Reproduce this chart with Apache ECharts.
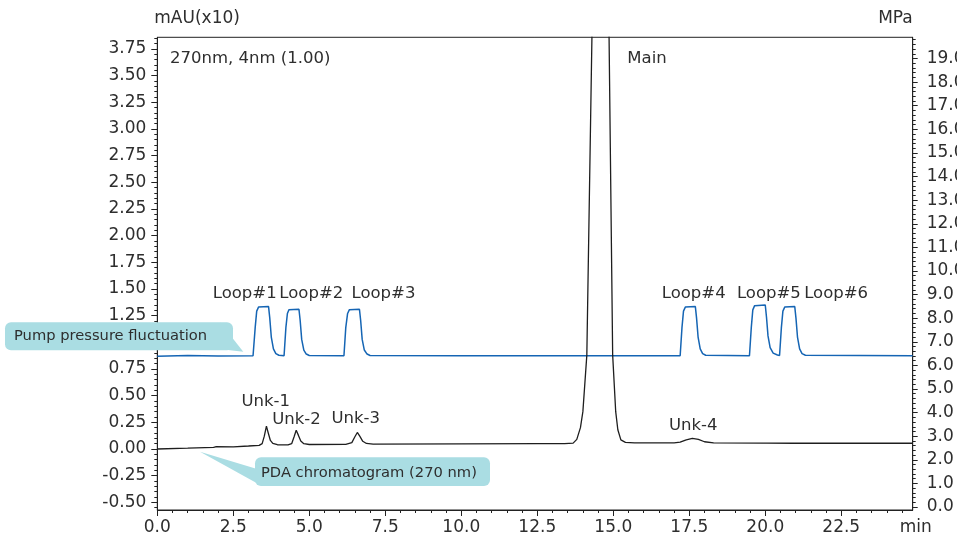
<!DOCTYPE html>
<html><head><meta charset="utf-8">
<script src="https://cdn.jsdelivr.net/npm/echarts@6/dist/echarts.min.js"></script>
<style>html,body{margin:0;padding:0;background:#fff}#c{width:957px;height:539px}</style>
</head><body><div id="c"></div>
<script>
// ---- data ----
// PDA chromatogram (270 nm), left axis mAU(x10): [time(min), value]
var pdaData = [
  [0,0.000],[1.0,0.008],[1.85,0.015],[1.92,0.021],[1.97,0.013],[2.5,0.020],[3.0,0.028],[3.35,0.034],
  [3.45,0.050],[3.52,0.120],[3.59,0.215],[3.65,0.150],[3.72,0.080],[3.80,0.052],[3.95,0.040],[4.30,0.038],
  [4.42,0.050],[4.50,0.115],[4.57,0.175],[4.64,0.130],[4.72,0.075],[4.82,0.050],[5.0,0.042],[6.2,0.044],
  [6.40,0.060],[6.50,0.115],[6.58,0.155],[6.66,0.120],[6.76,0.072],[6.88,0.052],[7.1,0.046],[10.0,0.048],
  [12.5,0.050],[13.4,0.050],[13.68,0.055],[13.80,0.090],[13.92,0.200],[14.00,0.350],[14.13,0.880],[14.30,3.900],
  [14.45,15.0],[14.57,30.0],[14.70,15.0],[14.86,3.900],[14.98,0.880],[15.08,0.350],[15.15,0.180],[15.25,0.085],
  [15.40,0.062],[15.7,0.058],[17.0,0.058],[17.2,0.064],[17.4,0.085],[17.6,0.100],[17.8,0.090],[18.0,0.068],
  [18.3,0.058],[19.95,0.055],[20.0,0.050],[20.05,0.055],[20.95,0.054],[21.0,0.049],[21.05,0.054],[24.85,0.054]
];
// Pump pressure, right axis MPa: [time(min), pressure]
var pressureData = [
  [0,6.39],[1.0,6.42],[2.0,6.40],[3.15,6.41],
  [3.18,6.45],[3.22,7.60],[3.27,8.30],[3.33,8.47],[3.66,8.49],[3.70,8.00],[3.75,7.20],[3.82,6.70],[3.90,6.50],[4.00,6.43],[4.17,6.41],
  [4.19,6.45],[4.23,7.60],[4.28,8.20],[4.33,8.36],[4.66,8.38],[4.70,7.90],[4.75,7.10],[4.82,6.65],[4.90,6.48],[5.00,6.42],[6.14,6.41],
  [6.16,6.45],[6.20,7.60],[6.26,8.20],[6.32,8.36],[6.65,8.38],[6.69,7.90],[6.74,7.10],[6.81,6.65],[6.90,6.48],[7.00,6.42],
  [10.0,6.41],[14.0,6.41],[17.20,6.41],
  [17.22,6.45],[17.26,7.60],[17.31,8.30],[17.37,8.47],[17.70,8.49],[17.74,8.00],[17.79,7.20],[17.86,6.70],[17.94,6.50],[18.04,6.43],[19.48,6.41],
  [19.50,6.45],[19.54,7.60],[19.59,8.35],[19.65,8.53],[20.00,8.56],[20.04,8.05],[20.09,7.25],[20.16,6.75],[20.26,6.52],[20.40,6.44],[20.47,6.42],
  [20.49,6.45],[20.53,7.60],[20.58,8.30],[20.64,8.47],[20.97,8.49],[21.01,8.00],[21.06,7.20],[21.13,6.70],[21.21,6.50],[21.32,6.43],[24.85,6.41]
];
// annotation texts and their anchor points (time, left-axis value)
var noteTexts = ['270nm, 4nm (1.00)','Main','Loop#1','Loop#2','Loop#3','Loop#4','Loop#5','Loop#6','Unk-1','Unk-2','Unk-3','Unk-4'];
var noteTime  = [0.42, 16.11, 2.875, 5.066, 7.44, 17.645, 20.12, 22.33, 3.566, 4.579, 6.53, 17.63];
var noteValue = [3.656, 3.656, 1.458, 1.458, 1.458, 1.458, 1.458, 1.458, 0.443, 0.278, 0.281, 0.216];
var noteAlign = ['left','center','center','center','center','center','center','center','center','center','center','center'];
// axis ticks
var xTicks = [0,2.5,5,7.5,10,12.5,15,17.5,20,22.5];
var leftTicks = [-0.5,-0.25,0,0.25,0.5,0.75,1,1.25,1.5,1.75,2,2.25,2.5,2.75,3,3.25,3.5,3.75];
var rightTicks = [0,1,2,3,4,5,6,7,8,9,10,11,12,13,14,15,16,17,18,19];

// ---- minor tick positions ----
function minorList(a, b, step, major) {
  var out = [];
  for (var i = Math.round(a/step); i*step <= b + 1e-9; i++) {
    var v = +(i*step).toFixed(4);
    if (Math.abs(v/major - Math.round(v/major)) > 1e-6) out.push(v);
  }
  return out;
}
var xMinor = minorList(0, 24.5, 0.5, 2.5);
var leftMinor = minorList(-0.55, 3.85, 0.05, 0.25);
var rightMinor = minorList(0, 19.8, 0.2, 1);

var FONT = 'DejaVu Sans';
var TXT = '#2e2e2e';
var AX = '#222222';
var BOX = '#aadde3';
var X_MIN = 0, X_MAX = 24.85, L_MIN = -0.572, L_MAX = 3.86, R_MIN = -0.127, R_MAX = 19.9;

var chart = echarts.init(document.getElementById('c'), null, {renderer: 'canvas'});
var notes = noteTexts.map(function (t, i) {
  return {value: [noteTime[i], noteValue[i]], name: t, label: {align: noteAlign[i]}};
});
function hidden() { return {show: false}; }

var option = {
  animation: false,
  backgroundColor: '#ffffff',
  grid: {left: 157.3, right: 44.3, top: 37.3, bottom: 29, show: true, borderColor: AX, borderWidth: 1,
         containLabel: false, outerBoundsMode: 'none'},
  xAxis: [
    {type: 'value', min: X_MIN, max: X_MAX, position: 'bottom',
     axisLine: {show: true, onZero: false, lineStyle: {color: AX, width: 1}},
     axisTick: {show: true, inside: false, length: 6, customValues: xTicks, lineStyle: {color: AX}},
     axisLabel: {show: true, customValues: xTicks, margin: 9, color: TXT, fontFamily: FONT, fontSize: 17,
                 formatter: function (v) { return v.toFixed(1); }},
     splitLine: hidden(), minorTick: hidden(),
     name: 'min', nameLocation: 'end', nameGap: 3,
     nameTextStyle: {align: 'center', verticalAlign: 'top', padding: [9, 0, 0, 0], color: TXT, fontFamily: FONT, fontSize: 17}},
    {type: 'value', min: X_MIN, max: X_MAX, position: 'bottom',
     axisLine: {show: false, onZero: false}, axisLabel: hidden(), splitLine: hidden(),
     axisTick: {show: true, inside: false, length: 3, customValues: xMinor, lineStyle: {color: AX}}}
  ],
  yAxis: [
    {type: 'value', min: L_MIN, max: L_MAX, position: 'left',
     axisLine: {show: true, onZero: false, lineStyle: {color: AX, width: 1}},
     axisTick: {show: true, inside: false, length: 6, customValues: leftTicks, lineStyle: {color: AX}},
     axisLabel: {show: true, customValues: leftTicks, margin: 11, color: TXT, fontFamily: FONT, fontSize: 17,
                 formatter: function (v) { return v.toFixed(2); }},
     splitLine: hidden(),
     name: 'mAU(x10)', nameLocation: 'end', nameGap: 10,
     nameTextStyle: {align: 'left', color: TXT, fontFamily: FONT, fontSize: 17, padding: [0, 0, 0, -3]}},
    {type: 'value', min: L_MIN, max: L_MAX, position: 'left',
     axisLine: {show: false, onZero: false}, axisLabel: hidden(), splitLine: hidden(),
     axisTick: {show: true, inside: false, length: 3, customValues: leftMinor, lineStyle: {color: AX}}},
    {type: 'value', min: R_MIN, max: R_MAX, position: 'right',
     axisLine: {show: true, onZero: false, lineStyle: {color: AX, width: 1}},
     axisTick: {show: true, inside: false, length: 5, customValues: rightTicks, lineStyle: {color: AX}},
     axisLabel: {show: true, customValues: rightTicks, margin: 14, color: TXT, fontFamily: FONT, fontSize: 17,
                 formatter: function (v) { return v.toFixed(1); }},
     splitLine: hidden(),
     name: 'MPa', nameLocation: 'end', nameGap: 10,
     nameTextStyle: {align: 'right', color: TXT, fontFamily: FONT, fontSize: 17}},
    {type: 'value', min: R_MIN, max: R_MAX, position: 'right',
     axisLine: {show: false, onZero: false}, axisLabel: hidden(), splitLine: hidden(),
     axisTick: {show: true, inside: false, length: 3, customValues: rightMinor, lineStyle: {color: AX}}}
  ],
  series: [
    {type: 'line', name: 'PDA', xAxisIndex: 0, yAxisIndex: 0, data: pdaData, showSymbol: false, symbol: 'none',
     clip: true, silent: true, lineStyle: {color: '#1e1e1e', width: 1.3}, z: 3},
    {type: 'line', name: 'Pressure', xAxisIndex: 0, yAxisIndex: 2, data: pressureData, showSymbol: false, symbol: 'none',
     clip: true, silent: true, lineStyle: {color: '#1565b4', width: 1.5}, z: 2},
    {type: 'scatter', name: 'notes', xAxisIndex: 0, yAxisIndex: 0, data: notes, symbolSize: 0, silent: true, z: 5,
     itemStyle: {opacity: 1},
     label: {show: true, position: 'inside', opacity: 1, formatter: function (p) { return p.name; },
             color: TXT, fontFamily: FONT, fontSize: 16.5}}
  ],
  graphic: [
    {type: 'polygon', z: 100, zlevel: 1, shape: {points: [[220, 322.3], [243.3, 351.7], [228, 350]]}, style: {fill: BOX}},
    {type: 'rect', z: 100, zlevel: 1, shape: {x: 5, y: 322.3, width: 228, height: 28, r: 6}, style: {fill: BOX}},
    {type: 'text', z: 101, zlevel: 1, x: 14, y: 336.5, style: {text: 'Pump pressure fluctuation', fill: TXT, font: '14.7px "DejaVu Sans"', verticalAlign: 'middle', align: 'left'}},
    {type: 'polygon', z: 100, zlevel: 1, shape: {points: [[200, 451.7], [262, 470.4], [262, 486]]}, style: {fill: BOX}},
    {type: 'rect', z: 100, zlevel: 1, shape: {x: 255, y: 457.3, width: 235, height: 28.7, r: 6}, style: {fill: BOX}},
    {type: 'text', z: 101, zlevel: 1, x: 261, y: 473, style: {text: 'PDA chromatogram (270 nm)', fill: TXT, font: '14.7px "DejaVu Sans"', verticalAlign: 'middle', align: 'left'}}
  ]
};
chart.setOption(option);
</script></body></html>
